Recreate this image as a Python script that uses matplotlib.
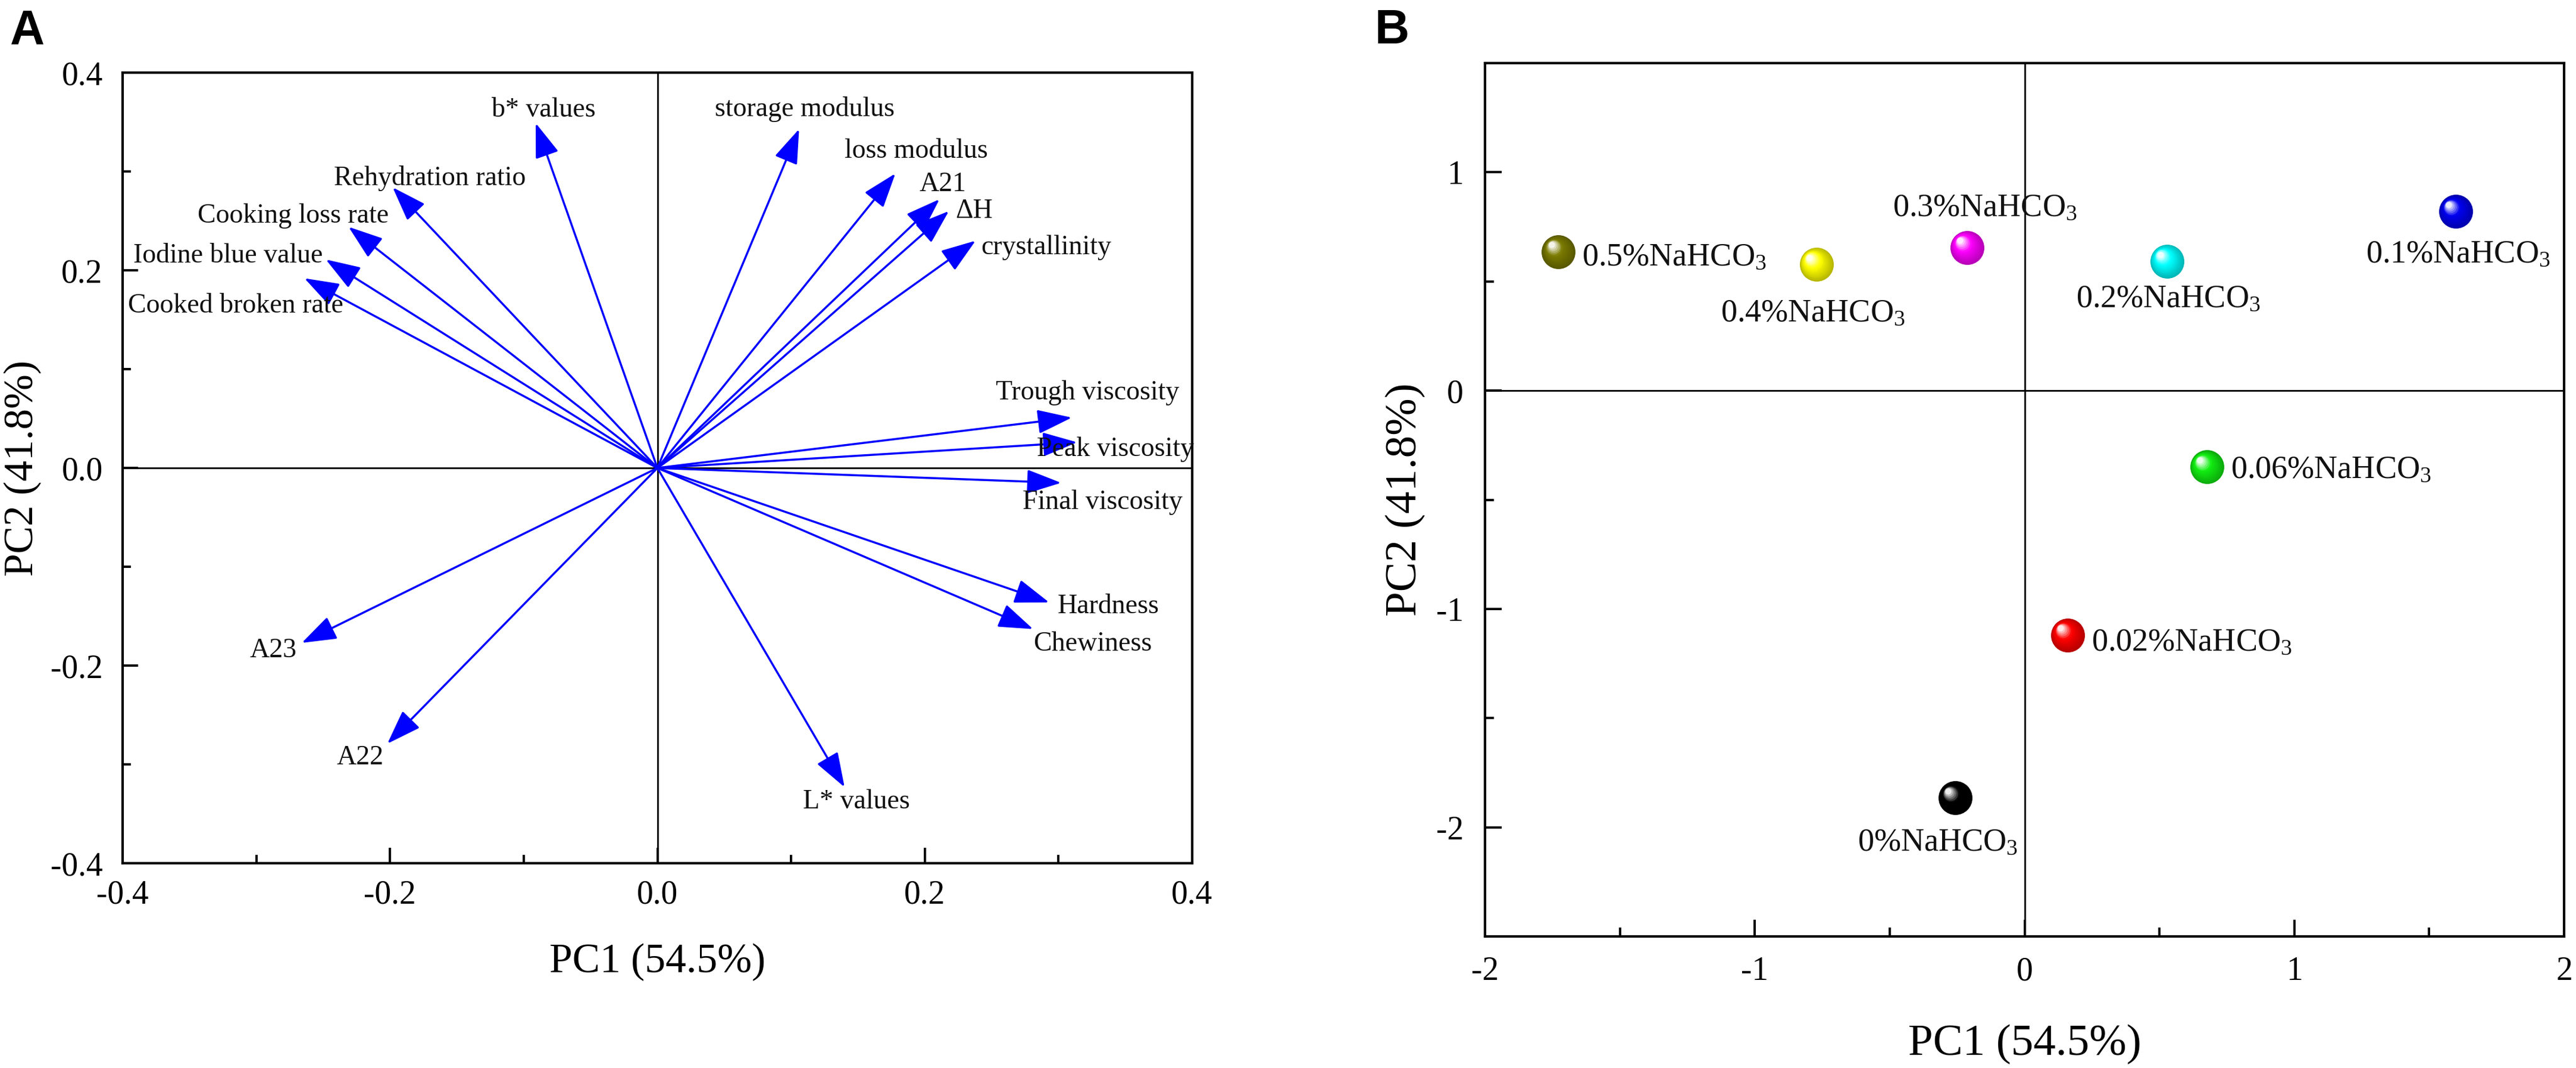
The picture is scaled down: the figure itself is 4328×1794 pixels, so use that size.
import numpy as np
import matplotlib
matplotlib.use("Agg")
import matplotlib.pyplot as plt
from matplotlib.colors import to_rgb
from matplotlib.transforms import offset_copy
from matplotlib.ticker import MultipleLocator, FormatStrFormatter

plt.rcParams['font.family'] = ['Liberation Serif', 'DejaVu Serif']
plt.rcParams['mathtext.fontset'] = 'custom'
plt.rcParams['mathtext.rm'] = 'Liberation Serif'
plt.rcParams['mathtext.it'] = 'Liberation Serif:italic'
plt.rcParams['axes.unicode_minus'] = False

# --- Panel A: loadings ---
variables = ['b* values', 'Rehydration ratio', 'Cooking loss rate', 'Iodine blue value',
             'Cooked broken rate', 'storage modulus', 'loss modulus', 'A21', '\u0394H',
             'crystallinity', 'Trough viscosity', 'Peak viscosity', 'Final viscosity',
             'Hardness', 'Chewiness', 'L* values', 'A23', 'A22']
load_pc1 = [-0.091, -0.198, -0.231, -0.248, -0.264, 0.106, 0.178, 0.211, 0.218,
            0.238, 0.310, 0.314, 0.302, 0.293, 0.281, 0.140, -0.266, -0.202]
load_pc2 = [0.349, 0.284, 0.244, 0.211, 0.192, 0.343, 0.298, 0.272, 0.260,
            0.230, 0.051, 0.026, -0.015, -0.136, -0.163, -0.323, -0.177, -0.279]
# label anchors (left edge, vertical centre)
lab_x = [-0.124, -0.242, -0.344, -0.392, -0.396, 0.043, 0.140, 0.196, 0.223,
         0.242, 0.253, 0.284, 0.273, 0.299, 0.281, 0.109, -0.305, -0.240]
lab_y = [0.362, 0.293, 0.255, 0.215, 0.164, 0.363, 0.321, 0.287, 0.260,
         0.223, 0.076, 0.019, -0.035, -0.140, -0.178, -0.338, -0.185, -0.293]

# --- Panel B: scores ---
samples = ['0.5%NaHCO$_3$', '0.4%NaHCO$_3$', '0.3%NaHCO$_3$', '0.2%NaHCO$_3$',
           '0.1%NaHCO$_3$', '0.06%NaHCO$_3$', '0.02%NaHCO$_3$', '0%NaHCO$_3$']
score_pc1 = [-1.728, -0.772, -0.214, 0.528, 1.598, 0.675, 0.159, -0.258]
score_pc2 = [0.636, 0.578, 0.656, 0.592, 0.820, -0.350, -1.120, -1.866]
ball_colors = ['#7a7a00', '#ffff00', '#ff00ff', '#00ffff', '#0000f0', '#11ee11', '#ff0000', '#000000']
# label anchors (left edge, baseline)
s_lab_x = [-1.64, -1.126, -0.488, 0.190, 1.265, 0.764, 0.247, -0.62]
s_lab_y = [0.573, 0.318, 0.800, 0.384, 0.589, -0.400, -1.189, -2.107]

fig = plt.figure(figsize=(21.64, 8.97), dpi=200)

def style_axes(ax, major, minor, ticksize, maj_len, min_len, xpad, ypad):
    for s in ax.spines.values():
        s.set_linewidth(1.5)
    ax.xaxis.set_major_locator(MultipleLocator(major))
    ax.xaxis.set_minor_locator(MultipleLocator(minor))
    ax.yaxis.set_major_locator(MultipleLocator(major))
    ax.yaxis.set_minor_locator(MultipleLocator(minor))
    ax.tick_params(which='both', direction='in', top=False, right=False, width=1.4)
    ax.tick_params(which='major', length=maj_len, labelsize=ticksize)
    ax.tick_params(which='minor', length=min_len)
    ax.tick_params(axis='x', which='major', pad=xpad)
    ax.tick_params(axis='y', which='major', pad=ypad)

# ---------------- A ----------------
axA = fig.add_axes([0.0476, 0.1917, 0.4152, 0.7402])
axA.set_xlim(-0.4, 0.4)
axA.set_ylim(-0.4, 0.4)
style_axes(axA, 0.2, 0.1, 20, 9.4, 5, 10, 12)
axA.xaxis.set_major_formatter(FormatStrFormatter('%.1f'))
axA.yaxis.set_major_formatter(FormatStrFormatter('%.1f'))
axA.axhline(0, color='black', lw=1.0, zorder=1)
axA.axvline(0, color='black', lw=1.0, zorder=1)

for name, x, y, tx, ty in zip(variables, load_pc1, load_pc2, lab_x, lab_y):
    axA.annotate('', xy=(x, y), xytext=(0, 0),
                 arrowprops=dict(arrowstyle='-|>,head_length=0.4,head_width=0.14',
                                 mutation_scale=45, color='#0000ff', lw=1.25,
                                 shrinkA=0, shrinkB=0), zorder=3)
    axA.text(tx, ty, name, fontsize=16.5, ha='left', va='center', color='#111111', zorder=4)

axA.text(0.5, -0.138, 'PC1 (54.5%)', transform=axA.transAxes, fontsize=25,
         ha='center', va='baseline')
axA.text(-0.084, 0.5, 'PC2 (41.8%)', transform=axA.transAxes, fontsize=25,
         rotation=90, rotation_mode='anchor', ha='center', va='baseline')

# ---------------- B ----------------
axB = fig.add_axes([0.5765, 0.1232, 0.4189, 0.8177])
axB.set_xlim(-2, 2)
axB.set_ylim(-2.5, 1.5)
style_axes(axB, 1, 0.5, 20, 10, 5.5, 12, 13)
axB.yaxis.set_major_locator(plt.FixedLocator([-2, -1, 0, 1]))
axB.yaxis.set_minor_locator(plt.FixedLocator([-1.5, -0.5, 0.5]))
axB.axhline(0, color='black', lw=1.0, zorder=1)
axB.axvline(0, color='black', lw=1.0, zorder=1)


def ball(ax, x, y, color, d=20.5, n=14):
    rgb = np.array(to_rgb(color))
    for i in range(n):
        t = i / (n - 1)
        if t < 0.6:
            c = rgb * (0.72 + 0.28 * t / 0.6)
        else:
            c = rgb + (1 - rgb) * ((t - 0.6) / 0.4) * 0.92
        tr = offset_copy(ax.transData, fig=fig, x=-0.2 * d * t, y=0.2 * d * t, units='points')
        ax.plot([x], [y], 'o', ms=d * (1 - 0.82 * t), color=np.clip(c, 0, 1),
                mec='none', transform=tr, zorder=3 + i * 0.01)


for name, x, y, c, tx, ty in zip(samples, score_pc1, score_pc2, ball_colors, s_lab_x, s_lab_y):
    ball(axB, x, y, c)
    axB.text(tx, ty, name, fontsize=19.5, ha='left', va='baseline', color='#111111', zorder=5)

axB.text(0.5, -0.1357, 'PC1 (54.5%)', transform=axB.transAxes, fontsize=27,
         ha='center', va='baseline')
axB.text(-0.064, 0.5, 'PC2 (41.8%)', transform=axB.transAxes, fontsize=27,
         rotation=90, rotation_mode='anchor', ha='center', va='baseline')

# panel letters
fig.text(17 / 4328, 1 - 73 / 1794, 'A', fontsize=29, fontweight='bold',
         family='Liberation Sans', va='baseline', ha='left')
fig.text(2310 / 4328, 1 - 73 / 1794, 'B', fontsize=29, fontweight='bold',
         family='Liberation Sans', va='baseline', ha='left')

fig.savefig('out.png', dpi=200, facecolor='white')
